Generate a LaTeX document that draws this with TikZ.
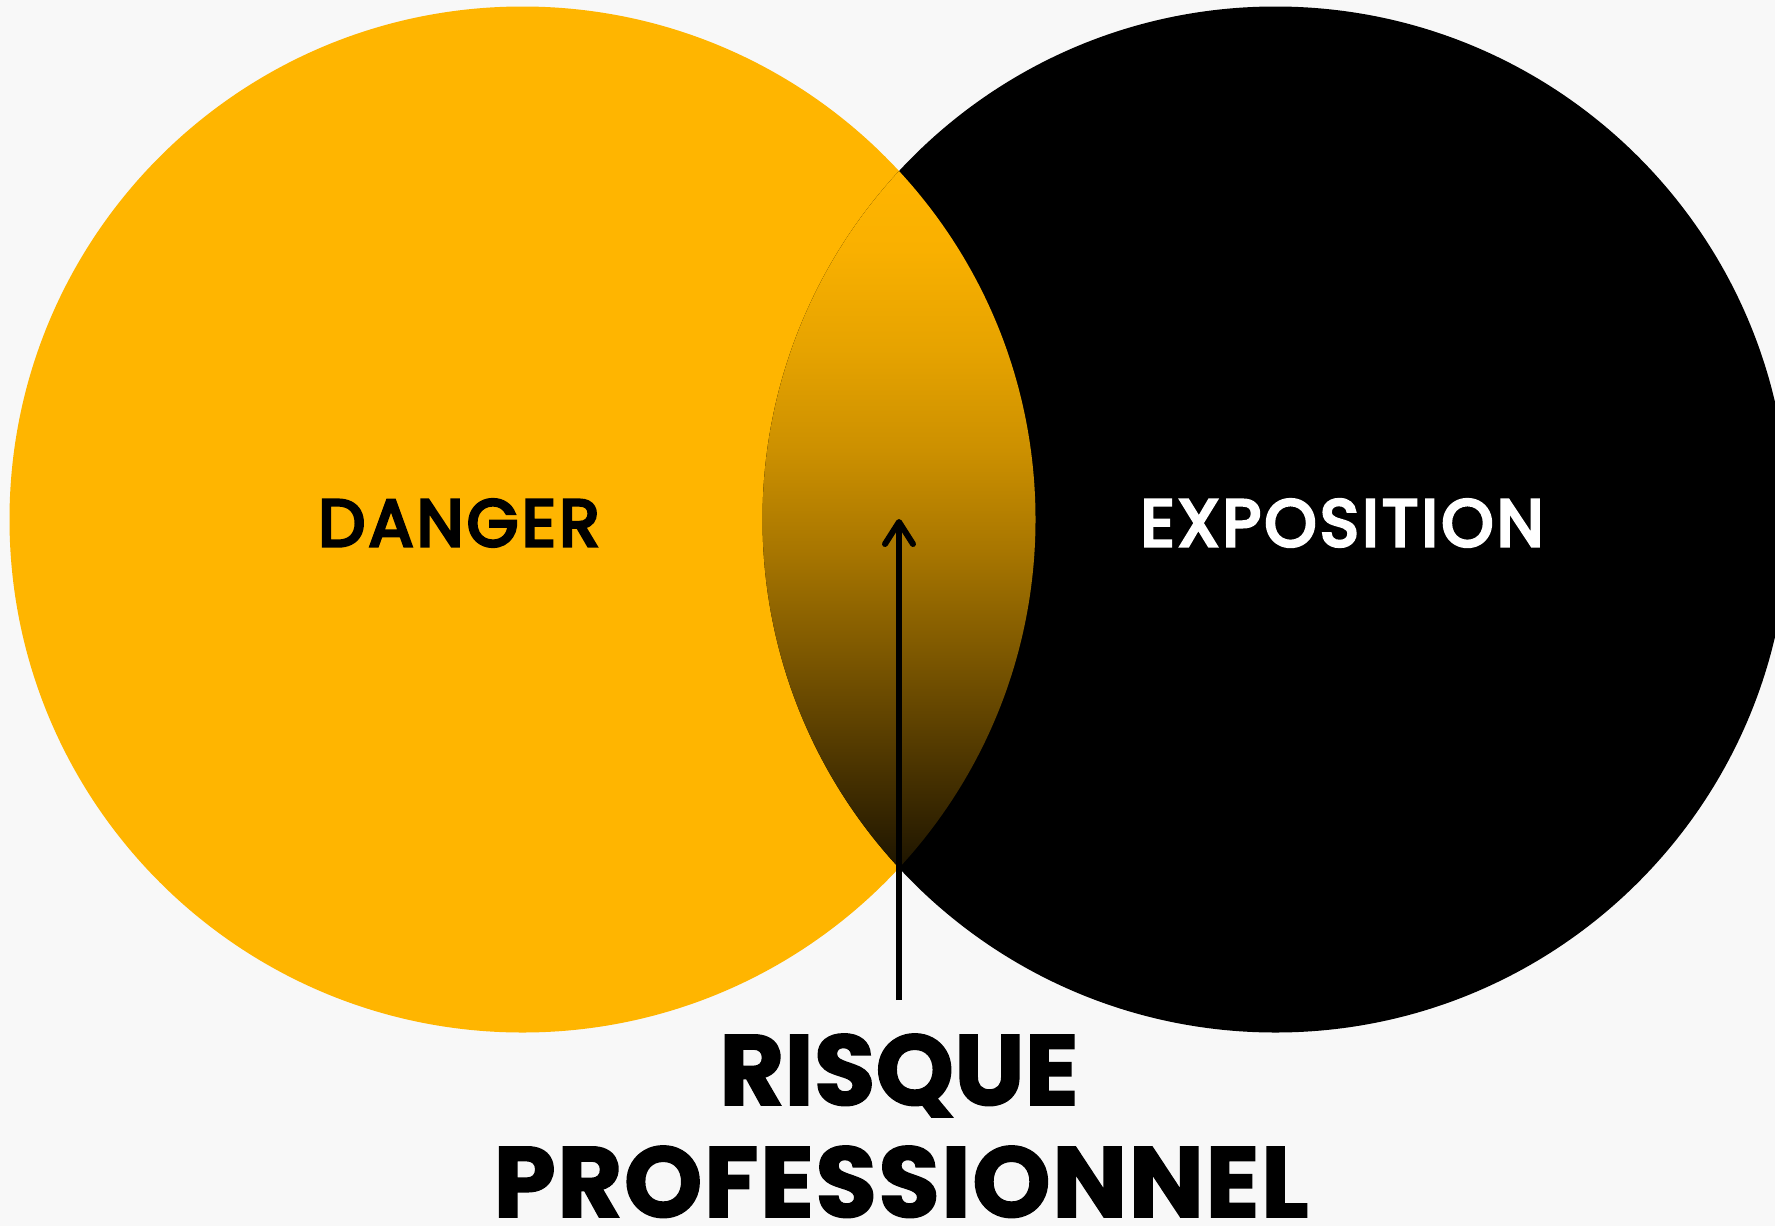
\documentclass[tikz,border=0pt]{standalone}
\usepackage{fontspec}
\setmainfont{Poppins}
\newfontfamily\medfont{Poppins}[UprightFeatures={FakeBold=5}, LetterSpace=5.5]
\newfontfamily\heavyfont{Poppins}[BoldFeatures={FakeBold=1.5}]
\newfontfamily\heavywide{Poppins}[BoldFeatures={FakeBold=1.5}, LetterSpace=1.4]
\usetikzlibrary{arrows.meta}
\definecolor{bg}{HTML}{F8F8F8}
\definecolor{dyellow}{HTML}{FFB500}
\definecolor{lzero}{HTML}{1E1500}
\definecolor{lone}{HTML}{523900}
\definecolor{ltwo}{HTML}{7F5900}
\definecolor{lthree}{HTML}{A87600}
\definecolor{lfour}{HTML}{CC9000}
\definecolor{lfive}{HTML}{E6A300}
\definecolor{lsix}{HTML}{F9B000}
\definecolor{lseven}{HTML}{FFB500}
\pgfdeclareverticalshading{lensshade}{100bp}{color(0bp)=(lzero); color(25bp)=(lzero); color(33.4bp)=(lone); color(40.6bp)=(ltwo); color(47.7bp)=(lthree); color(54.9bp)=(lfour); color(62.1bp)=(lfive); color(69.3bp)=(lsix); color(75bp)=(lseven); color(100bp)=(lseven)}
\tikzset{
  setlabel/.style={inner sep=0pt, font=\medfont\fontsize{66}{70}\selectfont},
  biglabel/.style={inner sep=0pt, anchor=base, font=\heavyfont\fontsize{100}{100}\selectfont\bfseries},
  bigwide/.style={inner sep=0pt, anchor=base, font=\heavywide\fontsize{100}{100}\selectfont\bfseries},
  pointer/.style={line width=6.5pt, -{Straight Barb[round, length=22pt, width=28pt, line width=6pt]}}
}
\begin{document}
\begin{tikzpicture}[x=1pt, y=-1pt]
\useasboundingbox (0,0) rectangle (1775,1226);
\fill[bg] (0,0) rectangle (1775,1226);
\clip (0,0) rectangle (1775,1226);
\fill[dyellow] (522.5,519.5) circle[radius=513];
\fill[black] (1275.5,519.5) circle[radius=513];
\begin{scope}
  \clip (522.5,519.5) circle[radius=513];
  \clip (1275.5,519.5) circle[radius=513];
  \shade[shading=lensshade] (760,170) rectangle (1040,867);
\end{scope}
\node[setlabel, text=black] (danger) at (459,523) {DANGER};
\node[setlabel, text=white] (exposition) at (1342,523) {EXPOSITION};
\coordinate (arrbot) at (899,1000);
\coordinate (arrtop) at (899,519);
\draw[pointer] (arrbot) -- (arrtop);
\node[biglabel] (risque) at (899,1105) {RISQUE};
\node[bigwide] (pro) at (901,1217) {PROFESSIONNEL};
\end{tikzpicture}
\end{document}
